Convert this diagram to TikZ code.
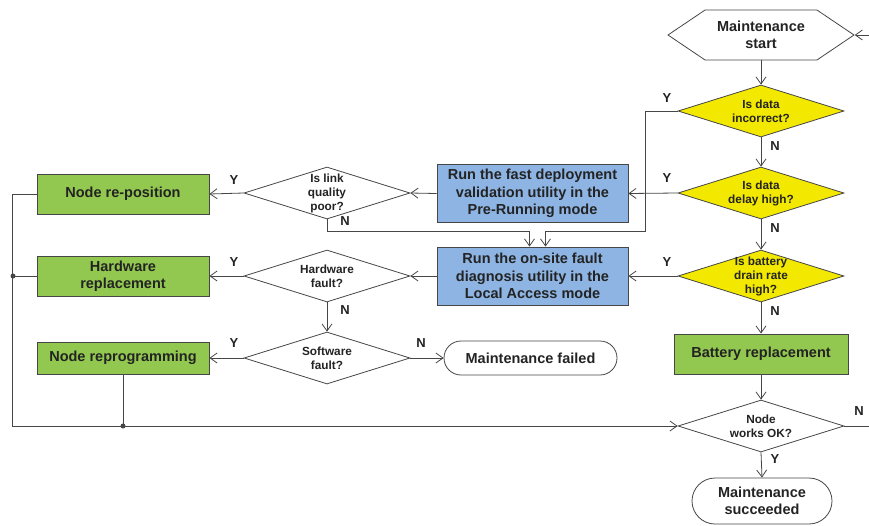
\documentclass[tikz,border=0pt]{standalone}
\usepackage{fontspec}
\setmainfont{Liberation Sans}
\usetikzlibrary{shapes.geometric,shapes.misc,shapes.symbols,arrows.meta}
\definecolor{boxgreen}{RGB}{146,200,80}
\definecolor{boxblue}{RGB}{141,180,226}
\definecolor{qyellow}{RGB}{242,232,0}
\definecolor{linegray}{RGB}{70,70,70}
\definecolor{txt}{RGB}{35,35,35}
\newcommand{\bigtxt}{\fontsize{14.5}{17.5}\selectfont\bfseries}
\newcommand{\smalltxt}{\fontsize{11.8}{14}\selectfont\bfseries}

\begin{document}
\begin{tikzpicture}[x=1pt,y=-1pt,
  >={Straight Barb[length=7pt,width=10pt]},
  flow/.style={draw=linegray,line width=0.8pt},
  act/.style={draw=linegray,line width=0.9pt,fill=boxgreen,text=txt,font=\bigtxt,align=center,inner sep=0pt,minimum width=172pt,minimum height=40pt},
  util/.style={act,fill=boxblue,minimum width=191pt,minimum height=58pt},
  term/.style={rounded rectangle,draw=linegray,line width=0.8pt,fill=white,text=txt,font=\bigtxt,align=center,inner sep=0pt},
  decision/.style={diamond,draw=linegray,line width=0.8pt,fill=white,inner sep=0pt,minimum width=166pt,minimum height=52pt},
  check/.style={decision,fill=qyellow},
  qtext/.style={text=txt,font=\smalltxt,align=center,inner sep=0pt},
  yn/.style={text=txt,font=\fontsize{13}{15}\selectfont\bfseries,inner sep=0pt},
  dot/.style={circle,fill=linegray,inner sep=0pt,minimum size=5pt}]
  \useasboundingbox (0,0) rectangle (869,525);

  \node[signal,signal to=west and east,signal pointer angle=68,draw=linegray,line width=0.8pt,text=txt,font=\bigtxt,align=center,inner sep=0pt,minimum width=186pt,minimum height=50pt] (start) at (761,35) {Maintenance\\start};
  \node[check,label={[qtext]center:Is data\\incorrect?}] (incorrect) at (761,111) {};
  \node[check,label={[qtext]center:Is data\\delay high?}] (delay) at (761,193) {};
  \node[check,label={[qtext]center:Is battery\\drain rate\\high?}] (drain) at (761,276) {};
  \node[act,minimum width=174pt] (battery) at (761,354) {Battery replacement};
  \node[decision,label={[qtext]center:Node\\works OK?}] (works) at (761,426) {};
  \node[term,minimum width=140pt,minimum height=46pt] (succeeded) at (762,501) {Maintenance\\succeeded};

  \node[util] (fast) at (532.5,193.5) {Run the fast deployment\\validation utility in the\\Pre-Running mode};
  \node[util] (onsite) at (532.5,276) {Run the on-site fault\\diagnosis utility in the\\Local Access mode};

  \node[decision,label={[qtext]center:Is link\\quality\\poor?}] (link) at (327,193) {};
  \node[decision,label={[qtext]center:Hardware\\fault?}] (hardware) at (327,276) {};
  \node[decision,label={[qtext]center:Software\\fault?}] (software) at (327,358) {};
  \node[term,minimum width=173pt,minimum height=34pt] (failed) at (530.5,358) {Maintenance failed};

  \node[act] (reposition) at (123,194) {Node re-position};
  \node[act] (hwrep) at (123,276) {Hardware\\replacement};
  \node[act,minimum height=32pt] (reprog) at (123,358) {Node reprogramming};

  \coordinate (loopin) at (869,35);
  \coordinate (loopout) at (869,426);
  \coordinate (hwjoin) at (13,276);
  \coordinate (rpjoin) at (123,426);

  \draw[flow,->] (loopin) -- (start.east);
  \draw[flow,->] (start.south) -- (incorrect.north);
  \draw[flow,->] (incorrect.south) -- (delay.north);
  \draw[flow,->] (delay.south) -- (drain.north);
  \draw[flow,->] (drain.south) -- (battery.north);
  \draw[flow,->] (battery.south) -- (works.north);
  \draw[flow,->] (works.south) -- (succeeded.north);
  \draw[flow] (works.east) -- (loopout);

  \draw[flow,->] (incorrect.west) -- ++(-32,0) -- ++(0,120) -| ([xshift=13pt]onsite.north);
  \draw[flow,->] (delay.west) -- (fast.east);
  \draw[flow,->] (drain.west) -- (onsite.east);
  \draw[flow,->] (fast.west) -- (link.east);
  \draw[flow,->] (link.west) -- (reposition.east);
  \draw[flow,->] (link.south) -- ++(0,12) -| ([xshift=-3pt]onsite.north);
  \draw[flow,->] (onsite.west) -- (hardware.east);
  \draw[flow,->] (hardware.west) -- (hwrep.east);
  \draw[flow,->] (hardware.south) -- (software.north);
  \draw[flow,->] (software.west) -- (reprog.east);
  \draw[flow,->] (software.east) -- (failed.west);

  \draw[flow,->] (reposition.west) -- ++(-24,0) |- (works.west);
  \draw[flow] (hwrep.west) -- (hwjoin);
  \draw[flow] (reprog.south) -- (rpjoin);
  \node[dot] (hwdot) at (hwjoin) {};
  \node[dot] (rpdot) at (rpjoin) {};

  \node[yn] (y1) at (667,98) {Y};
  \node[yn] (n1) at (775,146) {N};
  \node[yn] (y2) at (667,178) {Y};
  \node[yn] (n2) at (775,228) {N};
  \node[yn] (y3) at (667,262) {Y};
  \node[yn] (n3) at (775,311) {N};
  \node[yn] (y4) at (775,459) {Y};
  \node[yn] (n4) at (859,411) {N};
  \node[yn] (y5) at (234,180) {Y};
  \node[yn] (n5) at (345,221) {N};
  \node[yn] (y6) at (234,262) {Y};
  \node[yn] (n6) at (345,310) {N};
  \node[yn] (y7) at (234,343) {Y};
  \node[yn] (n7) at (421,343) {N};
\end{tikzpicture}
\end{document}
